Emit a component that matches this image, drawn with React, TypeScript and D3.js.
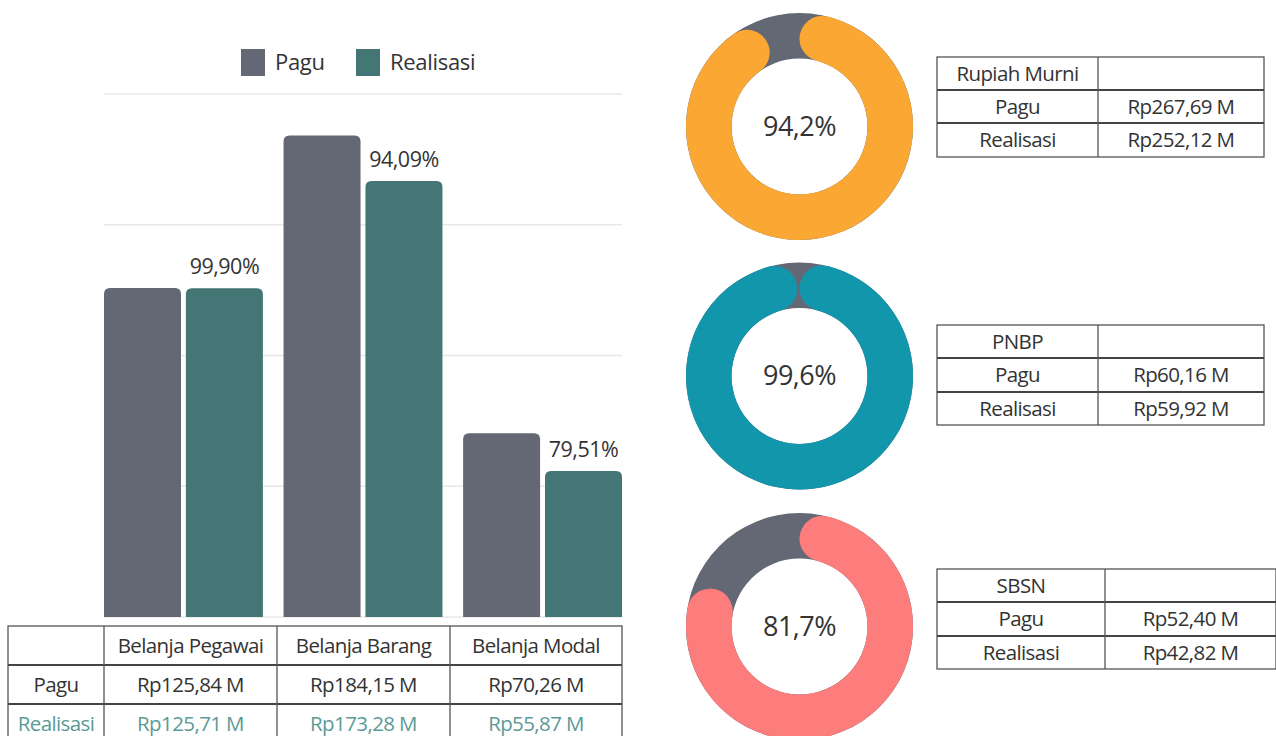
import React from 'react';
import * as d3 from 'd3';

// bar chart data
const categories = ['Belanja Pegawai', 'Belanja Barang', 'Belanja Modal'];
const pagu = [125.84, 184.15, 70.26];
const realisasi = [125.71, 173.28, 55.87];
// bar heights as drawn in the picture (the middle bar is drawn lower than its table value)
const realisasiBar = [125.71, 166.7, 55.87];
const percentLabels = ['99,90%', '94,09%', '79,51%'];
const yTicks = [0, 50, 100, 150, 200];

// donut data
const sources = ['Rupiah Murni', 'PNBP', 'SBSN'];
const sourcePagu = [267.69, 60.16, 52.4];
const sourceReal = [252.12, 59.92, 42.82];
const sourcePct = [94.2, 99.6, 81.7];
const donutColors = ['#FAA734', '#1196AC', '#FD7C7C'];

const GRAY = '#646874';
const TEAL = '#437674';
const FONT = '"Open Sans", "Noto Sans", sans-serif';

const rp = (v: number) => 'Rp' + v.toFixed(2).replace('.', ',') + ' M';

const topRounded = (x: number, y: number, w: number, h: number, r: number) =>
  `M${x},${y + h}V${y + r}Q${x},${y} ${x + r},${y}H${x + w - r}Q${x + w},${y} ${x + w},${y + r}V${y + h}Z`;

function Table({ cols, rows, cells, colors }: { cols: number[]; rows: number[]; cells: string[][]; colors?: string[] }) {
  const x0 = cols[0], x1 = cols[cols.length - 1];
  const y0 = rows[0], y1 = rows[rows.length - 1];
  return (
    <g>
      <rect x={x0} y={y0} width={x1 - x0} height={y1 - y0} fill="none" stroke="#555" strokeWidth={1.3} />
      {rows.slice(1, -1).map((y, i) => (
        <line key={'h' + i} x1={x0} x2={x1} y1={y} y2={y} stroke="#444" strokeWidth={2} />
      ))}
      {cols.slice(1, -1).map((cx, i) => (
        <line key={'v' + i} x1={cx} x2={cx} y1={y0} y2={y1} stroke="#555" strokeWidth={1.3} />
      ))}
      {cells.map((row, ri) =>
        row.map((t, ci) => (
          <text
            key={ri + '-' + ci}
            x={(cols[ci] + cols[ci + 1]) / 2}
            y={(rows[ri] + rows[ri + 1]) / 2}
            dy="0.35em"
            textAnchor="middle"
            fontSize={20.5}
            letterSpacing={-0.6}
            fill={colors ? colors[ri] : '#333'}
          >
            {t}
          </text>
        ))
      )}
    </g>
  );
}

function BarChart() {
  const left = 104, right = 622, top = 94, bottom = 617;
  const x = d3.scaleBand<string>().domain(categories).range([left, right]).paddingInner(0.115).paddingOuter(0);
  const xs = d3.scaleBand<string>().domain(['Pagu', 'Realisasi']).range([0, x.bandwidth()]).paddingInner(0.06);
  const y = d3.scaleLinear().domain([0, 200]).range([bottom, top]);

  return (
    <g>
      {/* legend */}
      <rect x={241} y={49} width={24} height={27} fill={GRAY} />
      <text x={275} y={70} fontSize={22} letterSpacing={-0.3} fill="#333">Pagu</text>
      <rect x={356} y={49} width={24} height={27} fill={TEAL} />
      <text x={390} y={70} fontSize={22} letterSpacing={-0.3} fill="#333">Realisasi</text>

      {yTicks.map((t) => (
        <line key={t} x1={left} x2={right} y1={y(t)} y2={y(t)} stroke="#e8e8e8" strokeWidth={1.5} />
      ))}

      {categories.map((c, i) => {
        const bx = x(c)!;
        const w = xs.bandwidth();
        const px = bx + xs('Pagu')!;
        const rx = bx + xs('Realisasi')!;
        return (
          <g key={c}>
            <path d={topRounded(px, y(pagu[i]), w, y(0) - y(pagu[i]), 6)} fill={GRAY} />
            <path d={topRounded(rx, y(realisasiBar[i]), w, y(0) - y(realisasiBar[i]), 6)} fill={TEAL} />
            <text x={rx + w / 2} y={y(realisasiBar[i]) - 14} textAnchor="middle" fontSize={21.5} letterSpacing={-0.5} fill="#333">
              {percentLabels[i]}
            </text>
          </g>
        );
      })}

      <Table
        cols={[8, 104, 277, 450, 622]}
        rows={[626, 665, 704, 743]}
        cells={[
          ['', ...categories],
          ['Pagu', ...pagu.map(rp)],
          ['Realisasi', ...realisasi.map(rp)],
        ]}
        colors={['#333', '#333', '#5C9A96']}
      />
    </g>
  );
}

function Donuts() {
  const cx = 799.5;
  const cys = [126.5, 376, 626.5];
  const outer = 113.5, inner = 68;
  const track = d3.arc<any>().innerRadius(inner).outerRadius(outer).startAngle(0).endAngle(2 * Math.PI);
  const arc = d3.arc<any>().innerRadius(inner).outerRadius(outer).cornerRadius((outer - inner) / 2);
  const angle = d3.scaleLinear().domain([0, 100]).range([0, 2 * Math.PI]);
  const tables = [
    { cols: [937, 1098, 1264], rows: [57, 90, 123, 157] },
    { cols: [937, 1098, 1264], rows: [325, 358, 392, 425] },
    { cols: [937, 1105, 1276], rows: [569, 602, 636, 669] },
  ];
  return (
    <g>
      {sources.map((s, i) => (
        <g key={s}>
          <g transform={`translate(${cx},${cys[i]})`}>
            <path d={track(null as any)!} fill={GRAY} />
            <path d={arc({ startAngle: 0, endAngle: angle(sourcePct[i]) })!} fill={donutColors[i]} />
            <text textAnchor="middle" dy="0.35em" fontSize={27} letterSpacing={-0.5} fill="#333">
              {String(sourcePct[i]).replace('.', ',') + '%'}
            </text>
          </g>
          <Table
            cols={tables[i].cols}
            rows={tables[i].rows}
            cells={[
              [s, ''],
              ['Pagu', rp(sourcePagu[i])],
              ['Realisasi', rp(sourceReal[i])],
            ]}
          />
        </g>
      ))}
    </g>
  );
}

export default function App() {
  return (
    <svg
      width={1276}
      height={736}
      style={{ position: 'absolute', left: 0, top: 0, background: '#fff', fontFamily: FONT }}
    >
      <BarChart />
      <Donuts />
    </svg>
  );
}
